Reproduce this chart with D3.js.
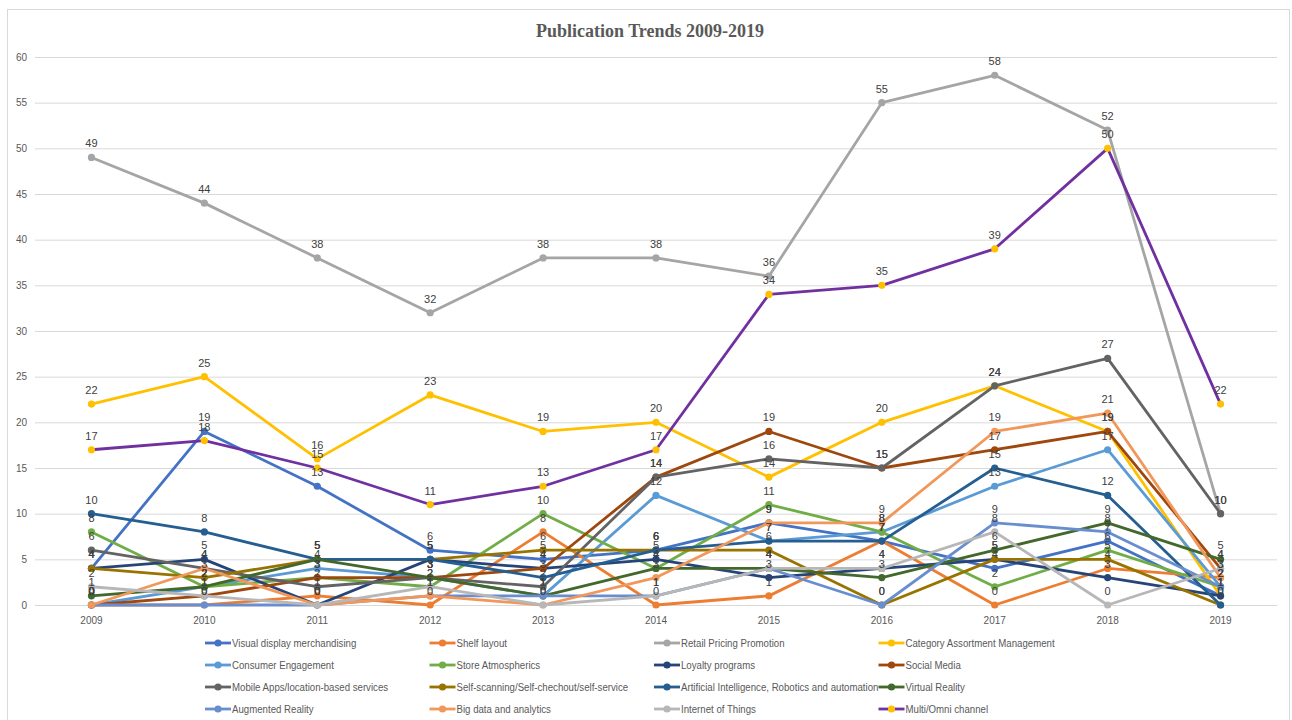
<!DOCTYPE html>
<html>
<head>
<meta charset="utf-8">
<script src="https://cdn.jsdelivr.net/npm/d3@7"></script>
<style>
  body { margin: 0; background: #fff; }
  svg { display: block; }
  .grid line { stroke: #d9d9d9; stroke-width: 1; }
  .yaxis text, .xaxis text { fill: #595959; font-family: "Liberation Sans", Arial, sans-serif; font-size: 10px; }
  .lbl { fill: #404040; font-family: "Liberation Sans", Arial, sans-serif; font-size: 11px; text-anchor: middle; }
  .legend text { fill: #595959; font-family: "Liberation Sans", Arial, sans-serif; font-size: 11.5px; }
</style>
</head>
<body>
<svg id="chart" width="1292" height="720"></svg>
<script>
// datos
var years = ["2009","2010","2011","2012","2013","2014","2015","2016","2017","2018","2019"];

var visualDisplay = [4, 19, 13, 6, 5, 6, 9, 7, 4, 7, 1];
var shelfLayout   = [0, 0, 1, 0, 8, 0, 1, 7, 0, 4, 3];
var retailPricing = [49, 44, 38, 32, 38, 38, 36, 55, 58, 52, 10];
var categoryMgmt  = [22, 25, 16, 23, 19, 20, 14, 20, 24, 19, 1];
var consumerEng   = [0, 2, 4, 3, 1, 12, 7, 8, 13, 17, 2];
var storeAtmos    = [8, 2, 3, 2, 10, 4, 11, 8, 2, 6, 2];
var loyalty       = [4, 5, 0, 5, 4, 5, 3, 4, 5, 3, 1];
var socialMedia   = [0, 1, 3, 3, 4, 14, 19, 15, 17, 19, 4];
var mobileApps    = [6, 4, 2, 3, 2, 14, 16, 15, 24, 27, 10];
var selfScanning  = [4, 3, 5, 5, 6, 6, 6, 0, 5, 5, 0];
var artificialInt = [10, 8, 5, 5, 3, 6, 7, 7, 15, 12, 0];
var virtualReality= [1, 2, 5, 3, 1, 4, 4, 3, 6, 9, 5];
var augmented     = [0, 0, 0, 1, 1, 1, 4, 0, 9, 8, 2];
var bigData       = [0, 4, 0, 1, 0, 3, 9, 9, 19, 21, 3];
var internetThings= [2, 1, 0, 2, 0, 1, 4, 4, 8, 0, 4];
var multiChannel  = [17, 18, 15, 11, 13, 17, 34, 35, 39, 50, 22];

var yTicks = [0, 5, 10, 15, 20, 25, 30, 35, 40, 45, 50, 55, 60];

var seriesNames = ["Visual display merchandising", "Shelf layout", "Retail Pricing Promotion",
  "Category Assortment Management", "Consumer Engagement", "Store Atmospherics", "Loyalty programs",
  "Social Media", "Mobile Apps/location-based services", "Self-scanning/Self-chechout/self-service",
  "Artificial Intelligence, Robotics and automation", "Virtual Reality", "Augmented Reality",
  "Big data and analytics", "Internet of Things", "Multi/Omni channel"];
var seriesValues = [visualDisplay, shelfLayout, retailPricing, categoryMgmt, consumerEng, storeAtmos,
  loyalty, socialMedia, mobileApps, selfScanning, artificialInt, virtualReality, augmented, bigData,
  internetThings, multiChannel];
var lineColors = ["#4472C4","#ED7D31","#A5A5A5","#FFC000","#5B9BD5","#70AD47","#264478","#9E480E",
  "#636363","#997300","#255E91","#43682B","#698ED0","#F1975A","#B7B7B7","#7030A0"];
var markerColors = ["#4472C4","#ED7D31","#A5A5A5","#FFC000","#5B9BD5","#70AD47","#264478","#9E480E",
  "#636363","#997300","#255E91","#43682B","#698ED0","#F1975A","#B7B7B7","#FFC000"];

var series = seriesNames.map(function(n, i) {
  return {name: n, values: seriesValues[i], line: lineColors[i], marker: markerColors[i]};
});

var svg = d3.select("#chart");
var plot = {left: 35, right: 1277, top: 57, bottom: 605};

// marco
svg.append("rect")
  .attr("x", 7.5).attr("y", 9.5)
  .attr("width", 1282).attr("height", 720)
  .attr("fill", "none").attr("stroke", "#d9d9d9");

svg.append("text")
  .attr("x", 650).attr("y", 37)
  .attr("text-anchor", "middle")
  .style("font-family", "'Liberation Serif', 'Times New Roman', serif")
  .style("font-size", "18px").style("font-weight", "bold")
  .style("fill", "#595959")
  .text("Publication Trends 2009-2019");

var x = d3.scaleBand().domain(years).range([plot.left, plot.right]);
var y = d3.scaleLinear().domain([0, 60]).range([plot.bottom, plot.top]);
function cx(d, i) { return x(years[i]) + x.bandwidth() / 2; }

// rejilla
svg.append("g").attr("class", "grid")
  .selectAll("line").data(yTicks).enter().append("line")
  .attr("x1", plot.left).attr("x2", plot.right)
  .attr("y1", function(d) { return y(d) + 0.5; })
  .attr("y2", function(d) { return y(d) + 0.5; });

var yAxis = d3.axisLeft(y).tickValues(yTicks).tickSize(0).tickPadding(8);
svg.append("g").attr("class", "yaxis")
  .attr("transform", "translate(" + plot.left + ",0)")
  .call(yAxis)
  .call(function(g) { g.select(".domain").remove(); });

var xAxis = d3.axisBottom(x).tickSize(0).tickPadding(12);
svg.append("g").attr("class", "xaxis")
  .attr("transform", "translate(0," + plot.bottom + ")")
  .call(xAxis)
  .call(function(g) { g.select(".domain").attr("stroke", "#d9d9d9"); });

var line = d3.line()
  .x(cx)
  .y(function(d) { return y(d); });

var sg = svg.append("g").selectAll("g.serie").data(series).enter()
  .append("g").attr("class", "serie");

sg.append("path")
  .attr("d", function(s) { return line(s.values); })
  .attr("fill", "none")
  .attr("stroke", function(s) { return s.line; })
  .attr("stroke-width", 2.8)
  .attr("stroke-linejoin", "round");

sg.selectAll("circle").data(function(s) {
    return s.values.map(function(v) { return {v: v, c: s.marker}; });
  }).enter().append("circle")
  .attr("cx", function(d, i) { return cx(d, i); })
  .attr("cy", function(d) { return y(d.v); })
  .attr("r", 3.6)
  .attr("fill", function(d) { return d.c; });

// etiquetas de datos encima de todo
var lg = svg.append("g");
series.forEach(function(s) {
  lg.selectAll(null).data(s.values).enter().append("text")
    .attr("class", "lbl")
    .attr("x", function(d, i) { return cx(d, i); })
    .attr("y", function(d) { return y(d) - 10; })
    .text(function(d) { return d; });
});

// leyenda (texto estrecho como Calibri)
var legend = svg.append("g").attr("class", "legend");
var items = legend.selectAll("g").data(series).enter().append("g")
  .attr("transform", function(s, i) {
    return "translate(" + (205 + (i % 4) * 224.5) + "," + (643 + Math.floor(i / 4) * 22) + ")";
  });
items.append("line")
  .attr("x1", 0).attr("x2", 26).attr("y1", 0).attr("y2", 0)
  .attr("stroke", function(s) { return s.line; })
  .attr("stroke-width", 2.8);
items.append("circle")
  .attr("cx", 13).attr("cy", 0).attr("r", 3.6)
  .attr("fill", function(s) { return s.marker; });
items.append("text")
  .attr("transform", "translate(27,4) scale(0.84,1)")
  .text(function(s) { return s.name; });
</script>
</body>
</html>
